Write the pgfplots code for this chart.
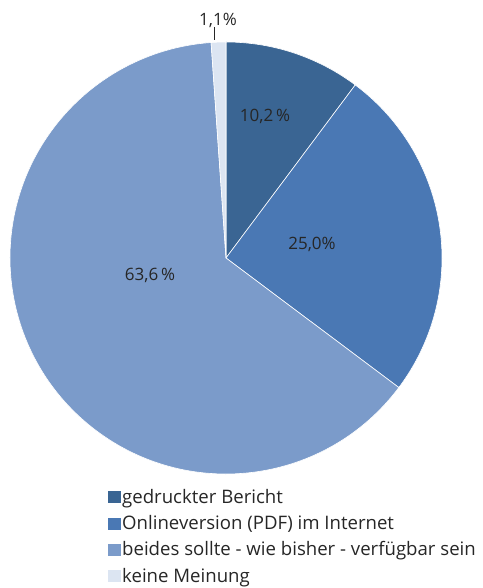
\documentclass[border=0pt]{standalone}
\usepackage{pgfplots}
\pgfplotsset{compat=1.18}
\usepackage{fontspec}
\setmainfont{Open Sans}
\definecolor{cA}{HTML}{3A6593}
\definecolor{cB}{HTML}{4A78B4}
\definecolor{cC}{HTML}{7B9BCA}
\definecolor{cD}{HTML}{DCE5F2}
\definecolor{txt}{HTML}{262626}
\begin{document}
\begin{tikzpicture}
\begin{axis}[
  name=ax,
  x=1pt, y=1pt, xmin=0, xmax=482, ymin=0, ymax=588,
  hide axis, clip=false,
  legend image code/.code={\fill[#1, draw=none] (0pt,-5pt) rectangle (12.5pt,7pt);},
  legend cell align=left,
  legend style={at={(axis cs:108,99)}, anchor=north west, draw=none, fill=none,
    font=\fontsize{18.6}{22}\selectfont\color{txt}, inner sep=0pt,
    row sep=8.3pt,
    nodes={inner xsep=1.5pt, inner ysep=0pt, text height=14pt, text depth=4pt}},
]
% values (percent): 10.2, 25.0, 63.6, 1.1  (sum 99.9)
\pgfmathsetmacro{\f}{360/99.9}
\fill[cA, draw=white, line width=0.6pt] (axis cs:226,330) -- ++(90:216pt)
  arc[start angle=90, end angle={90-\f*10.2}, radius=216pt] -- cycle;
\fill[cB, draw=white, line width=0.6pt] (axis cs:226,330) -- ++({90-\f*10.2}:216pt)
  arc[start angle={90-\f*10.2}, end angle={90-\f*35.2}, radius=216pt] -- cycle;
\fill[cC, draw=white, line width=0.6pt] (axis cs:226,330) -- ++({90-\f*35.2}:216pt)
  arc[start angle={90-\f*35.2}, end angle={90-\f*98.8}, radius=216pt] -- cycle;
\fill[cD, draw=white, line width=0.6pt] (axis cs:226,330) -- ++({90-\f*98.8}:216pt)
  arc[start angle={90-\f*98.8}, end angle={90-\f*99.9}, radius=216pt] -- cycle;
\begin{scope}[every node/.style={font=\fontsize{17}{20}\selectfont, text=txt}]
\node at (axis cs:265,472) {10,2\,\%};
\node at (axis cs:312,344) {25,0\%};
\node at (axis cs:150,313) {63,6\,\%};
\node at (axis cs:218,568) {1,1\%};
\end{scope}
\draw[txt, line width=0.6pt] (axis cs:214,561) -- (axis cs:214,548);
\addlegendimage{fill=cA}
\addlegendentry{gedruckter Bericht}
\addlegendimage{fill=cB}
\addlegendentry{Onlineversion (PDF) im Internet}
\addlegendimage{fill=cC}
\addlegendentry{beides sollte - wie bisher - verfügbar sein}
\addlegendimage{fill=cD}
\addlegendentry{keine Meinung}
\end{axis}
\pgfresetboundingbox
\path (ax.south west) rectangle (ax.north east);
\end{tikzpicture}
\end{document}
